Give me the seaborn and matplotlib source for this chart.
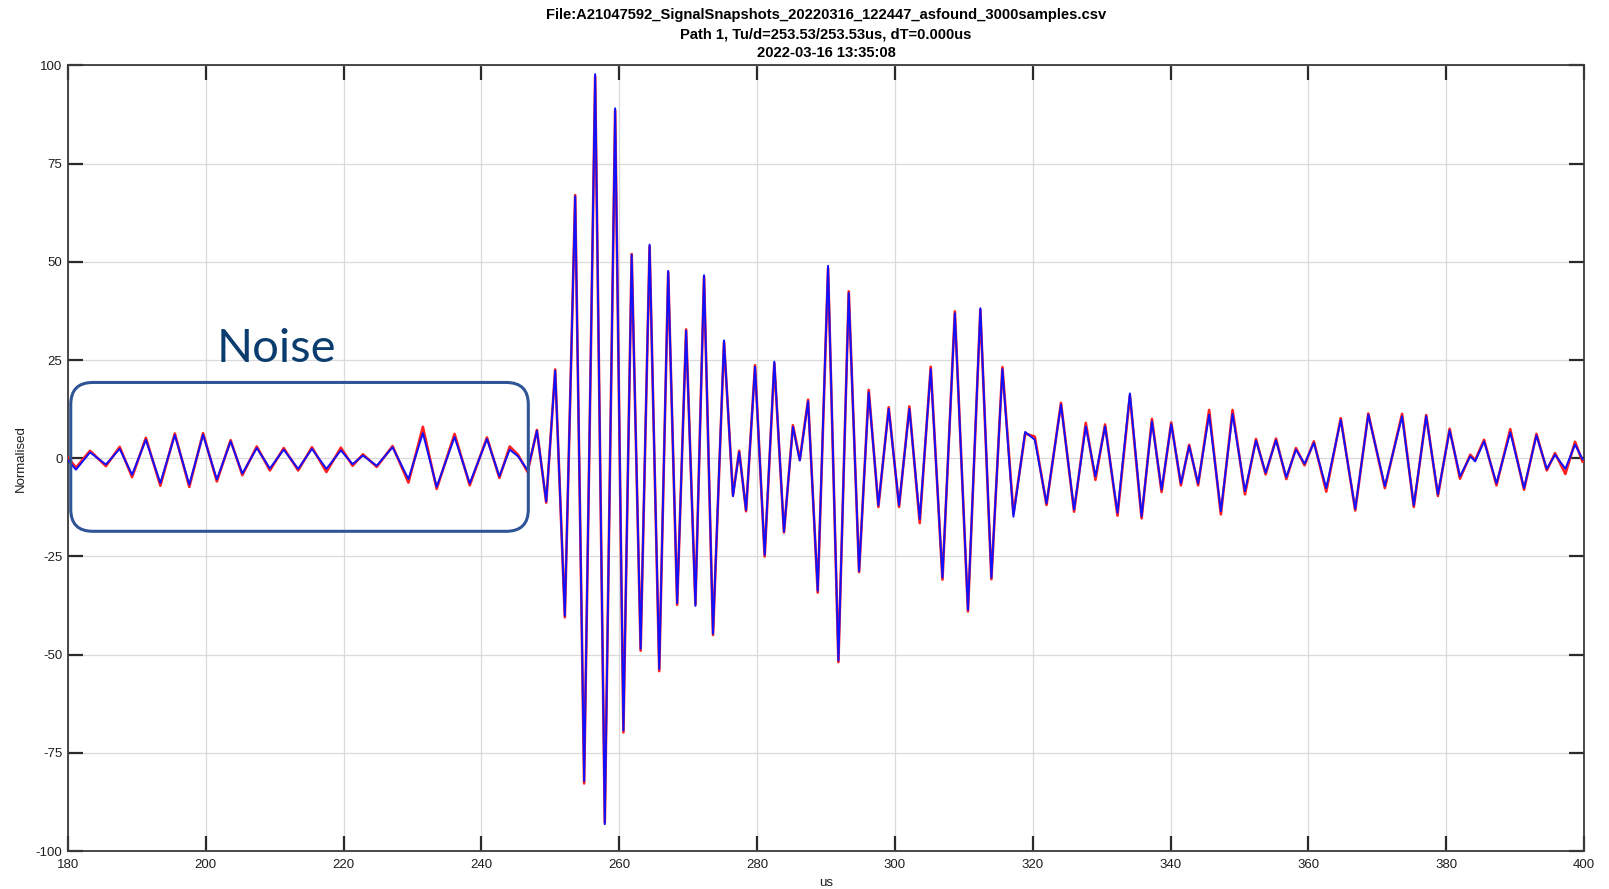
import numpy as np
import pandas as pd
import matplotlib
matplotlib.use("Agg")
import matplotlib.pyplot as plt
import seaborn as sns
from matplotlib.patches import FancyBboxPatch

# ---- data (times of peaks/troughs in us, normalised amplitude) ----
t_us = [180.0, 181.15, 183.2, 185.5, 187.5, 189.3, 191.3, 193.4, 195.5, 197.6,
        199.6, 201.6, 203.6, 205.3, 207.4, 209.3, 211.3, 213.4, 215.4, 217.5,
        219.6, 221.3, 222.8, 224.8, 227.1, 229.4, 231.5, 233.5, 236.1, 238.3,
        240.8, 242.6, 244.1, 245.3, 246.7, 248.05, 249.4, 250.7, 252.1, 253.6,
        254.9, 256.5, 257.9, 259.4, 260.6, 261.8, 263.1, 264.4, 265.8, 267.1,
        268.4, 269.7, 271.05, 272.3, 273.6, 275.2, 276.5, 277.4, 278.4, 279.7,
        281.1, 282.5, 283.9, 285.2, 286.2, 287.4, 288.8, 290.3, 291.8, 293.3,
        294.8, 296.2, 297.6, 299.1, 300.6, 302.1, 303.6, 305.2, 306.9, 308.7,
        310.6, 312.4, 314.0, 315.6, 317.2, 318.9, 320.3, 322.0, 324.1, 326.0,
        327.7, 329.1, 330.5, 332.3, 334.1, 335.8, 337.3, 338.7, 340.1, 341.5,
        342.7, 344.0, 345.6, 347.3, 349.0, 350.8, 352.4, 353.8, 355.3, 356.8,
        358.2, 359.45, 360.8, 362.6, 364.7, 366.8, 368.7, 371.1, 373.6, 375.3,
        377.1, 378.8, 380.5, 382.0, 383.5, 384.2, 385.5, 387.3, 389.3, 391.3,
        393.1, 394.6, 395.8, 397.3, 398.7, 399.8]

blue_vals = [-0.5, -2.9, 1.5, -1.6, 2.4, -4.2, 4.7, -6.3, 5.9, -6.7,
             6.0, -5.4, 4.3, -3.9, 2.6, -2.6, 2.2, -2.7, 2.4, -2.7,
             2.0, -1.5, 0.7, -1.9, 2.8, -5.3, 6.4, -7.3, 5.4, -6.4,
             4.9, -4.6, 2.2, 0.5, -3.0, 7.0, -11.0, 22.3, -40.1, 66.7,
             -82.2, 97.8, -93.2, 89.1, -69.3, 51.8, -48.5, 54.4, -53.7, 47.7,
             -36.9, 32.5, -37.6, 46.6, -44.7, 30.0, -9.7, 1.6, -13.2, 23.3,
             -24.6, 24.6, -18.7, 8.0, -0.6, 14.5, -33.7, 49.0, -51.5, 42.1,
             -28.7, 16.8, -12.0, 12.6, -12.0, 12.6, -15.5, 22.7, -30.4, 36.9,
             -38.6, 38.2, -30.4, 22.7, -14.9, 6.7, 4.7, -11.5, 13.7, -13.1,
             8.1, -4.6, 8.1, -13.9, 16.5, -14.8, 9.4, -8.0, 8.7, -6.4,
             3.1, -6.4, 11.1, -13.5, 11.3, -8.4, 4.5, -3.7, 4.6, -4.8,
             2.2, -1.4, 3.9, -7.6, 9.8, -12.9, 11.1, -7.1, 10.7, -12.0,
             10.7, -9.2, 7.1, -4.6, 0.5, -0.8, 4.3, -6.4, 6.6, -7.6,
             5.8, -2.7, 0.9, -2.7, 3.5, -0.3]

red_vals = [0.2, -2.4, 1.9, -2.0, 2.9, -4.8, 5.2, -7.0, 6.3, -7.3,
            6.4, -5.9, 4.6, -4.3, 3.0, -3.1, 2.6, -3.1, 2.8, -3.5,
            2.7, -1.9, 1.0, -2.2, 3.1, -6.2, 8.0, -7.8, 6.2, -6.9,
            5.3, -5.0, 3.0, 0.9, -3.5, 7.2, -11.3, 22.6, -40.5, 67.0,
            -82.8, 97.2, -92.8, 88.6, -69.8, 52.0, -49.0, 54.0, -54.2, 47.4,
            -37.3, 32.8, -37.2, 46.3, -45.0, 29.6, -9.4, 1.9, -13.5, 23.7,
            -25.0, 24.2, -18.9, 8.4, -0.4, 14.9, -34.2, 48.4, -51.9, 42.5,
            -29.0, 17.4, -12.4, 13.0, -12.4, 13.2, -16.5, 23.3, -30.9, 37.4,
            -39.0, 37.8, -30.8, 23.2, -14.2, 6.3, 5.5, -11.9, 14.1, -13.6,
            9.0, -5.5, 8.6, -14.6, 16.0, -15.3, 10.0, -8.6, 9.1, -6.9,
            3.4, -6.9, 12.3, -14.3, 12.3, -9.2, 4.9, -4.1, 5.0, -5.3,
            2.6, -1.8, 4.3, -8.5, 10.2, -13.3, 11.4, -7.6, 11.3, -12.4,
            11.0, -9.6, 7.5, -5.2, 0.9, -0.5, 4.7, -6.9, 7.4, -8.0,
            6.2, -3.1, 1.3, -4.0, 4.2, -0.9]

x_ticks = [180, 200, 220, 240, 260, 280, 300, 320, 340, 360, 380, 400]
y_ticks = [-100, -75, -50, -25, 0, 25, 50, 75, 100]
title_lines = ["File:A21047592_SignalSnapshots_20220316_122447_asfound_3000samples.csv",
               "Path 1, Tu/d=253.53/253.53us, dT=0.000us",
               "2022-03-16 13:35:08"]

df = pd.DataFrame({"us": t_us + t_us,
                   "Normalised": red_vals + blue_vals,
                   "trace": ["up"] * len(t_us) + ["down"] * len(t_us)})

sns.set_theme(style="white")
plt.rcParams["font.family"] = ["Liberation Sans", "DejaVu Sans"]
plt.rcParams["axes.unicode_minus"] = False

fig = plt.figure(figsize=(16.09, 8.89), dpi=100)
ax = fig.add_axes([68 / 1609, 1 - 851 / 889, (1584 - 68) / 1609, (851 - 65.5) / 889])

sns.lineplot(data=df[df.trace == "up"], x="us", y="Normalised", ax=ax,
             color="#ff2020", lw=1.9, sort=False, estimator=None, zorder=3)
sns.lineplot(data=df[df.trace == "down"], x="us", y="Normalised", ax=ax,
             color="#1010ff", lw=1.4, sort=False, estimator=None, zorder=4)

ax.set_xlim(180, 400)
ax.set_ylim(-100, 100)
ax.set_xticks(x_ticks)
ax.set_yticks(y_ticks)
ax.set_xticklabels([str(v) for v in x_ticks])
ax.set_yticklabels([str(v) for v in y_ticks])
ax.grid(True, color="#dadada", lw=0.9)
ax.set_axisbelow(True)
for s in ax.spines.values():
    s.set_color("#3a3a3a")
    s.set_linewidth(1.3)
ax.tick_params(axis="both", direction="in", length=11, width=1.6, color="#2a2a2a",
               top=True, right=True, bottom=True, left=True,
               labelsize=9.5, labelcolor="#1e1e1e")
ax.tick_params(axis="x", pad=6)
ax.tick_params(axis="y", pad=4)
ax.set_xlabel("us", fontsize=9.5, color="#1e1e1e", labelpad=4)
ax.set_ylabel("Normalised", fontsize=9.5, color="#1e1e1e", labelpad=6)
ax.set_title("\n".join(title_lines), fontsize=10.6, fontweight="bold",
             linespacing=1.45, pad=6, color="black")

# Noise annotation
box = FancyBboxPatch((180.4, -18.6), 66.4, 37.9,
                     boxstyle="round,pad=0,rounding_size=3.2", mutation_aspect=1.75,
                     fill=False, edgecolor="#2F5597", lw=2.2, zorder=6, clip_on=False)
ax.add_patch(box)
ax.text(210.3, 24.4, "Noise", fontsize=34, color="#0B3C6E", ha="center",
        va="baseline", family=["Lato", "DejaVu Sans"], zorder=7)

fig.savefig("out.png", dpi=100)
